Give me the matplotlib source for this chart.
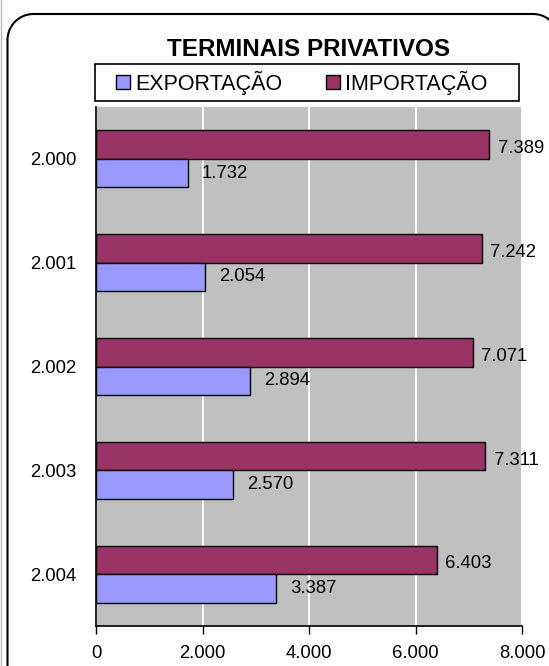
import matplotlib
matplotlib.use("Agg")
import matplotlib.pyplot as plt
from matplotlib.patches import Rectangle
import numpy as np

plt.rcParams['font.family'] = ['Liberation Sans', 'DejaVu Sans']

years = ['2.000', '2.001', '2.002', '2.003', '2.004']
exportacao = [1732, 2054, 2894, 2570, 3387]
importacao = [7389, 7242, 7071, 7311, 6403]
x_ticks = [0, 2000, 4000, 6000, 8000]
x_labels = ['0', '2.000', '4.000', '6.000', '8.000']


def fmt(v):
    return '{:,}'.format(v).replace(',', '.')


W, H = 549, 666
fig = plt.figure(figsize=(W / 100, H / 100), dpi=100)

# rounded frame around the whole chart, pixel coordinates
frame = fig.add_axes([0, 0, 1, 1])
frame.set_xlim(0, W)
frame.set_ylim(H, 0)
frame.axis('off')
r = 26
left, top, right = 7.5, 14, 559
t = np.linspace(np.pi, 1.5 * np.pi, 20)
xs = np.concatenate([[left], left + r + r * np.cos(t),
                     right - r - r * np.cos(t[::-1]), [right]])
ys = np.concatenate([[H + 20], top + r + r * np.sin(t),
                     top + r + r * np.sin(t[::-1]), [H + 20]])
frame.plot(xs, ys, color='black', lw=1.5, clip_on=True)
frame.plot([1, 1], [0, H], color='#bbbbbb', lw=1)
# legend box
frame.add_patch(Rectangle((95, 64), 424, 37, fc='white', ec='black', lw=1.2))

ax = fig.add_axes([96 / W, 1 - 626 / H, 426 / W, 519 / H])
ax.set_facecolor('#C0C0C0')

y = np.arange(len(years))
h = 0.275
ax.barh(y - h / 2, importacao, height=h, color='#993366', edgecolor='black',
        linewidth=1, label='IMPORTAÇÃO', zorder=3)
ax.barh(y + h / 2, exportacao, height=h, color='#9999FF', edgecolor='black',
        linewidth=1, label='EXPORTAÇÃO', zorder=3)

for i in range(len(years)):
    ax.annotate(fmt(importacao[i]), (importacao[i], y[i] - h / 2), xytext=(6, -3),
                textcoords='offset points', va='center', ha='left', fontsize=13.3)
    ax.annotate(fmt(exportacao[i]), (exportacao[i], y[i] + h / 2), xytext=(10, 0),
                textcoords='offset points', va='center', ha='left', fontsize=13.3)

ax.set_xlim(0, 8000)
ax.set_ylim(len(years) - 0.5, -0.5)
ax.set_xticks(x_ticks)
ax.set_xticklabels(x_labels)
ax.set_yticks(y)
ax.set_yticklabels(years)
ax.tick_params(axis='x', length=6, width=1, direction='out', pad=8, labelsize=13.3)
ax.tick_params(axis='y', length=0, pad=14, labelsize=13.3)
ax.grid(axis='x', color='white', linewidth=1.3, zorder=1)
ax.set_axisbelow(True)
for s in ['top', 'right']:
    ax.spines[s].set_visible(False)
ax.spines['left'].set_linewidth(1.2)
ax.spines['bottom'].set_linewidth(1.2)

fig.text(309 / W, 1 - 49 / H, 'TERMINAIS PRIVATIVOS', ha='center', va='center',
         fontsize=17.5, fontweight='bold')

handles, labels = ax.get_legend_handles_labels()
leg = fig.legend(handles[::-1], labels[::-1], loc='center left', ncol=2,
                 bbox_to_anchor=(116 / W, 1 - 82.5 / H),
                 fontsize=15.5, frameon=False, handlelength=0.65,
                 handleheight=0.65, handletextpad=0.25, borderpad=0,
                 borderaxespad=0, columnspacing=2.0)

fig.savefig('out.png', dpi=100)
